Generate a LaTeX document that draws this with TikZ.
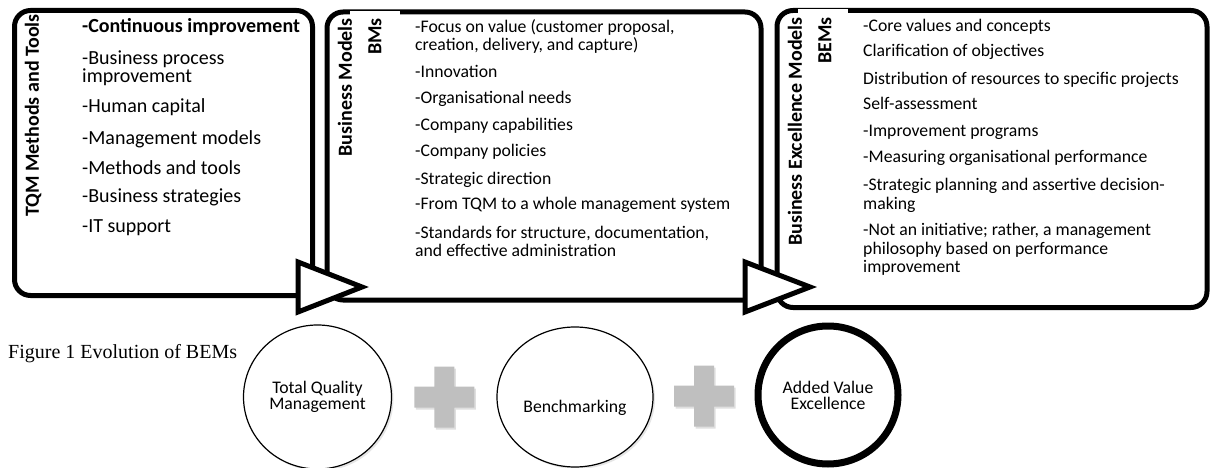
\documentclass[tikz,border=0pt]{standalone}
\usepackage{fontspec}
\setmainfont{Carlito}
\newfontfamily\capfont{Liberation Serif}
\usetikzlibrary{shapes.geometric,shadows,calc}

\tikzset{
	boxframe/.style={draw, line width=5pt, rounded corners=16pt, inner sep=0pt, outer sep=0pt, anchor=north west},
	arrowtri/.style={draw, fill=white, line width=5pt, line join=miter},
	boxtitle/.style={rotate=90, anchor=east, inner sep=0pt, font=\bfseries\fontsize{20}{22}\selectfont},
	itembig/.style={anchor=base west, inner sep=0pt, align=left, font=\fontsize{20}{18}\selectfont},
	itemsmall/.style={anchor=base west, inner sep=0pt, align=left, font=\fontsize{17.7}{18}\selectfont},
	circ/.style={ellipse, draw, fill=white, line width=1.2pt, inner sep=0pt, align=center,
		font=\fontsize{17.7}{16}\selectfont, drop shadow={opacity=0.2, shadow xshift=2pt, shadow yshift=-2pt}},
	plussign/.style={fill=black!25, drop shadow={opacity=0.25, shadow xshift=1.5pt, shadow yshift=-2pt}}
}

\begin{document}
\begin{tikzpicture}[>=stealth, line cap=round, line join=round, x=1pt, y=1pt]
	\useasboundingbox (0,0) rectangle (1211,-468);
	% the three stages
	\node[boxframe, minimum width=298, minimum height=285] (tqm) at (14.5,-10.5) {};
	\node[boxframe, minimum width=434, minimum height=288] (bm) at (327,-12) {};
	\node[boxframe, minimum width=430, minimum height=297] (bem) at (777,-10.5) {};
	\fill[white] (350,-10.7) rectangle (400,-15.5);
	\fill[white] (798,-8.6) rectangle (848,-14);
	% arrow heads between the stages
	\draw[arrowtri] ($(tqm.south east)+(-14.5,33.5)$) -- ++(0,-50) -- ++(64,25) -- cycle;
	\draw[arrowtri] ($(bm.south east)+(-16,38)$) -- ++(0,-50) -- ++(65,25) -- cycle;
	% titles
	\node[boxtitle] (tqmt) at (33,-14) {TQM Methods and Tools};
	\node[boxtitle] (bmt) at (345,-18) {Business Models};
	\node[boxtitle] (bmts) at (375,-18) {BMs};
	\node[boxtitle] (bemt) at (795,-17) {Business Excellence Models};
	\node[boxtitle] (bemts) at (825,-17) {BEMs};
	% lists (y = baseline of the last line)
	\node[itembig, font=\bfseries\fontsize{20}{18}\selectfont] (tqm0) at (82,-33) {-Continuous improvement};
	\foreach \y/\t [count=\i] in {83/{-Business process\\improvement}, 113/-Human capital,
		145/-Management models, 175/-Methods and tools, 203/-Business strategies, 233/-IT support}
		\node[itembig] (tqm\i) at (82,-\y) {\t};
	\foreach \y/\t [count=\i] in {51/{-Focus on value (customer proposal,\\creation, delivery, and capture)},
		78/-Innovation, 104/-Organisational needs, 131/-Company capabilities, 157/-Company policies,
		185/-Strategic direction, 210/-From TQM to a whole management system,
		256/{-Standards for structure, documentation,\\and effective administration}}
		\node[itemsmall] (bm\i) at (415,-\y) {\t};
	\foreach \y/\t [count=\i] in {32/-Core values and concepts, 57/Clarification of objectives,
		85/Distribution of resources to specific projects, 110/Self-assessment,
		137/-Improvement programs, 163/-Measuring organisational performance,
		209/{-Strategic planning and assertive decision-\\making},
		272/{-Not an initiative; rather, a management\\philosophy based on performance\\improvement}}
		\node[itemsmall] (bem\i) at (863,-\y) {\t};
	% caption
	\node[anchor=base west, inner sep=0pt, font=\capfont\fontsize{20}{24}\selectfont] (cap) at (8,-358) {Figure 1 Evolution of BEMs};
	% bottom row
	\node[circ, minimum width=148, minimum height=144] (tqmc) at (317.5,-397) {Total Quality\\Management};
	\node[circ, minimum width=156, minimum height=140] (bench) at (575,-397) {\raisebox{-15pt}[0pt][0pt]{Benchmarking}};
	\node[circ, line width=7pt, minimum width=140, minimum height=138] (ave) at (828,-395) {Added Value\\Excellence};
	\foreach \a/\b in {tqmc/bench, bench/ave}
		\path[plussign] ($(\a.east)!0.5!(\b.west)$) ++(-10,30.5) -- ++(20,0) -- ++(0,-20) -- ++(20,0) -- ++(0,-21)
			-- ++(-20,0) -- ++(0,-20) -- ++(-20,0) -- ++(0,20) -- ++(-20,0) -- ++(0,21) -- ++(20,0) -- cycle;
\end{tikzpicture}
\end{document}
